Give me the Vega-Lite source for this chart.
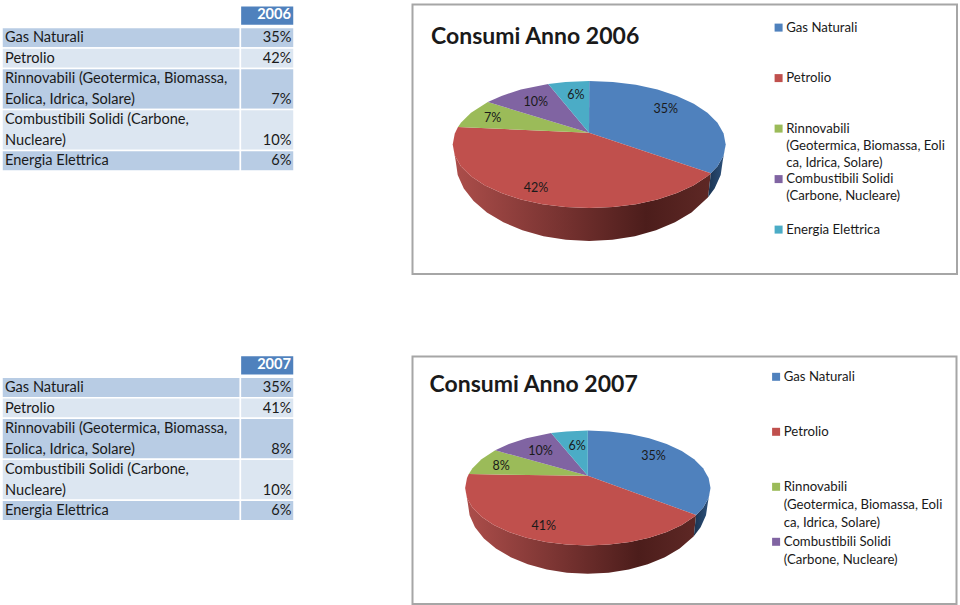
{
"$schema":"https://vega.github.io/schema/vega-lite/v6.json",
"background":"white",
"padding":{"left":0,"top":3.5,"right":0,"bottom":0},
"config":{"view":{"stroke":null},"font":"Lato","text":{"font":"Lato"}},
"bounds":"flush",
"spacing":{"row":82,"column":118.5},
"columns":2,
"resolve":{"scale":{"fill":"independent","x":"independent","y":"independent"},"legend":{"fill":"independent"}},
"datasets":{
"t06":[
{"band":"header","name":"","value":"2006","rowFrom":-1.06,"rowTo":-0.1,"labelLine":-0.6,"valueLine":-0.6},
{"band":"dark","name":"Gas Naturali","value":"35%","rowFrom":0,"rowTo":1,"labelLine":0.53,"valueLine":0.53},
{"band":"light","name":"Petrolio","value":"42%","rowFrom":1,"rowTo":2,"labelLine":1.53,"valueLine":1.53},
{"band":"dark","name":"Rinnovabili (Geotermica, Biomassa,|Eolica, Idrica, Solare)","value":"7%","rowFrom":2,"rowTo":4,"labelLine":2.53,"valueLine":3.53},
{"band":"light","name":"Combustibili Solidi (Carbone,|Nucleare)","value":"10%","rowFrom":4,"rowTo":6,"labelLine":4.53,"valueLine":5.53},
{"band":"dark","name":"Energia Elettrica","value":"6%","rowFrom":6,"rowTo":7,"labelLine":6.53,"valueLine":6.53}
],
"t07":[
{"band":"header","name":"","value":"2007","rowFrom":-1.06,"rowTo":-0.1,"labelLine":-0.6,"valueLine":-0.6},
{"band":"dark","name":"Gas Naturali","value":"35%","rowFrom":0,"rowTo":1,"labelLine":0.53,"valueLine":0.53},
{"band":"light","name":"Petrolio","value":"41%","rowFrom":1,"rowTo":2,"labelLine":1.53,"valueLine":1.53},
{"band":"dark","name":"Rinnovabili (Geotermica, Biomassa,|Eolica, Idrica, Solare)","value":"8%","rowFrom":2,"rowTo":4,"labelLine":2.53,"valueLine":3.53},
{"band":"light","name":"Combustibili Solidi (Carbone,|Nucleare)","value":"10%","rowFrom":4,"rowTo":6,"labelLine":4.53,"valueLine":5.53},
{"band":"dark","name":"Energia Elettrica","value":"6%","rowFrom":6,"rowTo":7,"labelLine":6.53,"valueLine":6.53}
],
"l06":[
{"slice":"Gas Naturali","text":"35%","x":665.7,"y":108.3},
{"slice":"Petrolio","text":"42%","x":536,"y":186.7},
{"slice":"Rinnovabili","text":"7%","x":492.7,"y":116.7},
{"slice":"Combustibili Solidi","text":"10%","x":535.7,"y":101},
{"slice":"Energia Elettrica","text":"6%","x":576,"y":94.3}
],
"l07":[
{"slice":"Gas Naturali","text":"35%","x":654,"y":454.3},
{"slice":"Petrolio","text":"41%","x":544.3,"y":524.3},
{"slice":"Rinnovabili","text":"8%","x":501.7,"y":464.3},
{"slice":"Combustibili Solidi","text":"10%","x":541,"y":449.3},
{"slice":"Energia Elettrica","text":"6%","x":577.7,"y":444}
],
"p06":[
{"s":"Gas Naturali","i":0,"x":589,"y":131.7},{"s":"Gas Naturali","i":1,"x":589.2,"y":80},{"s":"Gas Naturali","i":2,"x":612.9,"y":81},{"s":"Gas Naturali","i":3,"x":635.9,"y":83.8},{"s":"Gas Naturali","i":4,"x":657.5,"y":88.5},{"s":"Gas Naturali","i":5,"x":676.9,"y":94.9},{"s":"Gas Naturali","i":6,"x":693.8,"y":102.7},{"s":"Gas Naturali","i":7,"x":707.4,"y":111.7},{"s":"Gas Naturali","i":8,"x":717.5,"y":121.8},{"s":"Gas Naturali","i":9,"x":723.6,"y":132.5},{"s":"Gas Naturali","i":10,"x":725.7,"y":143.5},{"s":"Gas Naturali","i":11,"x":723.6,"y":154.5},{"s":"Gas Naturali","i":12,"x":717.5,"y":165.2},{"s":"Gas Naturali","i":13,"x":710.8,"y":172.3},
{"s":"Petrolio","i":0,"x":589,"y":131.7},{"s":"Petrolio","i":1,"x":710.8,"y":172.3},{"s":"Petrolio","i":2,"x":707.4,"y":175.3},{"s":"Petrolio","i":3,"x":693.8,"y":184.3},{"s":"Petrolio","i":4,"x":676.9,"y":192.1},{"s":"Petrolio","i":5,"x":657.5,"y":198.5},{"s":"Petrolio","i":6,"x":635.9,"y":203.2},{"s":"Petrolio","i":7,"x":612.9,"y":206},{"s":"Petrolio","i":8,"x":589.2,"y":207},{"s":"Petrolio","i":9,"x":565.5,"y":206},{"s":"Petrolio","i":10,"x":542.5,"y":203.2},{"s":"Petrolio","i":11,"x":520.9,"y":198.5},{"s":"Petrolio","i":12,"x":501.5,"y":192.1},{"s":"Petrolio","i":13,"x":484.6,"y":184.3},{"s":"Petrolio","i":14,"x":471,"y":175.3},{"s":"Petrolio","i":15,"x":460.9,"y":165.2},{"s":"Petrolio","i":16,"x":454.8,"y":154.5},{"s":"Petrolio","i":17,"x":452.7,"y":143.5},{"s":"Petrolio","i":18,"x":454.8,"y":132.5},{"s":"Petrolio","i":19,"x":458,"y":126},
{"s":"Rinnovabili","i":0,"x":589,"y":131.7},{"s":"Rinnovabili","i":1,"x":458,"y":126},{"s":"Rinnovabili","i":2,"x":460.9,"y":121.8},{"s":"Rinnovabili","i":3,"x":471,"y":111.7},{"s":"Rinnovabili","i":4,"x":487.8,"y":101},
{"s":"Combustibili Solidi","i":0,"x":589,"y":131.7},{"s":"Combustibili Solidi","i":1,"x":487.8,"y":101},{"s":"Combustibili Solidi","i":2,"x":501.5,"y":94.9},{"s":"Combustibili Solidi","i":3,"x":520.9,"y":88.5},{"s":"Combustibili Solidi","i":4,"x":548.2,"y":82.9},
{"s":"Energia Elettrica","i":0,"x":589,"y":131.7},{"s":"Energia Elettrica","i":1,"x":548.2,"y":82.9},{"s":"Energia Elettrica","i":2,"x":565.5,"y":81},{"s":"Energia Elettrica","i":3,"x":589.2,"y":80}
],
"w06r":[
{"i":0,"x":710.8,"y":172.3},{"i":1,"x":707.4,"y":175.3},{"i":2,"x":693.8,"y":184.3},{"i":3,"x":676.9,"y":192.1},{"i":4,"x":657.5,"y":198.5},{"i":5,"x":635.9,"y":203.2},{"i":6,"x":612.9,"y":206},{"i":7,"x":589.2,"y":207},{"i":8,"x":565.5,"y":206},{"i":9,"x":542.5,"y":203.2},{"i":10,"x":520.9,"y":198.5},{"i":11,"x":501.5,"y":192.1},{"i":12,"x":484.6,"y":184.3},{"i":13,"x":471,"y":175.3},{"i":14,"x":460.9,"y":165.2},{"i":15,"x":454.8,"y":154.5},{"i":16,"x":452.7,"y":143.5},
{"i":17,"x":455.7,"y":160},{"i":18,"x":457.7,"y":173.9},{"i":19,"x":463.8,"y":187.4},{"i":20,"x":473.6,"y":200},{"i":21,"x":486.9,"y":211.4},{"i":22,"x":503.4,"y":221.3},{"i":23,"x":522.4,"y":229.3},{"i":24,"x":543.5,"y":235.2},{"i":25,"x":566,"y":238.8},{"i":26,"x":589.2,"y":240},{"i":27,"x":612.4,"y":238.8},{"i":28,"x":634.9,"y":235.2},{"i":29,"x":656,"y":229.3},{"i":30,"x":675,"y":221.3},{"i":31,"x":691.5,"y":211.4},{"i":32,"x":708.1,"y":196.3}
],
"w06b":[
{"i":0,"x":725.7,"y":143.5},{"i":1,"x":723.6,"y":154.5},{"i":2,"x":717.5,"y":165.2},{"i":3,"x":710.8,"y":172.3},{"i":4,"x":708.1,"y":196.3},{"i":5,"x":714.6,"y":187.4},{"i":6,"x":720.7,"y":173.9},{"i":7,"x":722.7,"y":160}
],
"p07":[
{"s":"Gas Naturali","i":0,"x":588.3,"y":474.3},{"s":"Gas Naturali","i":1,"x":588.3,"y":429},{"s":"Gas Naturali","i":2,"x":609.6,"y":429.9},{"s":"Gas Naturali","i":3,"x":630.3,"y":432.5},{"s":"Gas Naturali","i":4,"x":649.7,"y":436.7},{"s":"Gas Naturali","i":5,"x":667.2,"y":442.5},{"s":"Gas Naturali","i":6,"x":682.3,"y":449.5},{"s":"Gas Naturali","i":7,"x":694.6,"y":457.7},{"s":"Gas Naturali","i":8,"x":703.6,"y":466.8},{"s":"Gas Naturali","i":9,"x":709.1,"y":476.5},{"s":"Gas Naturali","i":10,"x":711,"y":486.5},{"s":"Gas Naturali","i":11,"x":709.1,"y":496.5},{"s":"Gas Naturali","i":12,"x":703.6,"y":506.2},{"s":"Gas Naturali","i":13,"x":696.6,"y":513.5},
{"s":"Petrolio","i":0,"x":588.3,"y":474.3},{"s":"Petrolio","i":1,"x":696.6,"y":513.5},{"s":"Petrolio","i":2,"x":694.6,"y":515.3},{"s":"Petrolio","i":3,"x":682.3,"y":523.5},{"s":"Petrolio","i":4,"x":667.2,"y":530.5},{"s":"Petrolio","i":5,"x":649.7,"y":536.3},{"s":"Petrolio","i":6,"x":630.3,"y":540.5},{"s":"Petrolio","i":7,"x":609.6,"y":543.1},{"s":"Petrolio","i":8,"x":588.3,"y":544},{"s":"Petrolio","i":9,"x":567,"y":543.1},{"s":"Petrolio","i":10,"x":546.3,"y":540.5},{"s":"Petrolio","i":11,"x":526.9,"y":536.3},{"s":"Petrolio","i":12,"x":509.4,"y":530.5},{"s":"Petrolio","i":13,"x":494.3,"y":523.5},{"s":"Petrolio","i":14,"x":482,"y":515.3},{"s":"Petrolio","i":15,"x":473,"y":506.2},{"s":"Petrolio","i":16,"x":467.5,"y":496.5},{"s":"Petrolio","i":17,"x":465.6,"y":486.5},{"s":"Petrolio","i":18,"x":467.5,"y":476.5},{"s":"Petrolio","i":19,"x":469.3,"y":472.6},
{"s":"Rinnovabili","i":0,"x":588.3,"y":474.3},{"s":"Rinnovabili","i":1,"x":469.3,"y":472.6},{"s":"Rinnovabili","i":2,"x":473,"y":466.8},{"s":"Rinnovabili","i":3,"x":482,"y":457.7},{"s":"Rinnovabili","i":4,"x":495.7,"y":448.8},
{"s":"Combustibili Solidi","i":0,"x":588.3,"y":474.3},{"s":"Combustibili Solidi","i":1,"x":495.7,"y":448.8},{"s":"Combustibili Solidi","i":2,"x":509.4,"y":442.5},{"s":"Combustibili Solidi","i":3,"x":526.9,"y":436.7},{"s":"Combustibili Solidi","i":4,"x":551.6,"y":431.6},
{"s":"Energia Elettrica","i":0,"x":588.3,"y":474.3},{"s":"Energia Elettrica","i":1,"x":551.6,"y":431.6},{"s":"Energia Elettrica","i":2,"x":567,"y":429.9},{"s":"Energia Elettrica","i":3,"x":588.3,"y":429}
],
"w07r":[
{"i":0,"x":696.6,"y":513.5},{"i":1,"x":694.6,"y":515.3},{"i":2,"x":682.3,"y":523.5},{"i":3,"x":667.2,"y":530.5},{"i":4,"x":649.7,"y":536.3},{"i":5,"x":630.3,"y":540.5},{"i":6,"x":609.6,"y":543.1},{"i":7,"x":588.3,"y":544},{"i":8,"x":567,"y":543.1},{"i":9,"x":546.3,"y":540.5},{"i":10,"x":526.9,"y":536.3},{"i":11,"x":509.4,"y":530.5},{"i":12,"x":494.3,"y":523.5},{"i":13,"x":482,"y":515.3},{"i":14,"x":473,"y":506.2},{"i":15,"x":467.5,"y":496.5},{"i":16,"x":465.6,"y":486.5},
{"i":17,"x":468.3,"y":501.5},{"i":18,"x":470.1,"y":513.8},{"i":19,"x":475.5,"y":525.7},{"i":20,"x":484.4,"y":536.9},{"i":21,"x":496.4,"y":547},{"i":22,"x":511.2,"y":555.7},{"i":23,"x":528.3,"y":562.8},{"i":24,"x":547.3,"y":568},{"i":25,"x":567.5,"y":571.2},{"i":26,"x":588.3,"y":572.3},{"i":27,"x":609.1,"y":571.2},{"i":28,"x":629.3,"y":568},{"i":29,"x":648.3,"y":562.8},{"i":30,"x":665.4,"y":555.7},{"i":31,"x":680.2,"y":547},{"i":32,"x":694.3,"y":534.7}
],
"w07b":[
{"i":0,"x":711,"y":486.5},{"i":1,"x":709.1,"y":496.5},{"i":2,"x":703.6,"y":506.2},{"i":3,"x":696.6,"y":513.5},{"i":4,"x":694.3,"y":534.7},{"i":5,"x":701.1,"y":525.7},{"i":6,"x":706.5,"y":513.8},{"i":7,"x":708.3,"y":501.5}
]
},
"concat":[
{"width":294,"height":269.5,"data":{"name":"t06"},
"encoding":{"y":{"field":"rowFrom","type":"quantitative","axis":null,"scale":{"domain":[12.024,-1.122],"nice":false,"zero":false}}},
"layer":[
{"transform":[{"filter":"datum.band!='header'"}],"mark":{"type":"rect","stroke":"white","strokeWidth":1.5},"encoding":{"x":{"datum":0,"type":"quantitative","axis":null,"scale":{"domain":[0,1,2],"range":[2,240.4,294],"nice":false,"zero":false}},"x2":{"datum":1},"y2":{"field":"rowTo"},"fill":{"field":"band","type":"nominal","legend":null,"scale":{"domain":["header","dark","light"],"range":["#4f81bd","#b8cce4","#dce6f1"]}}}},
{"mark":{"type":"rect","stroke":"white","strokeWidth":1.5},"encoding":{"x":{"datum":1,"type":"quantitative"},"x2":{"datum":2},"y2":{"field":"rowTo"},"fill":{"field":"band","type":"nominal","legend":null}}},
{"mark":{"type":"text","align":"left","baseline":"middle","dx":3,"fontSize":14.6,"font":"Lato","lineBreak":"|","lineHeight":20.5,"color":"#1a1a1a"},"encoding":{"x":{"datum":0,"type":"quantitative"},"y":{"field":"labelLine","type":"quantitative"},"text":{"field":"name"}}},
{"transform":[{"filter":"datum.band!='header'"}],"mark":{"type":"text","align":"right","baseline":"middle","dx":-2.5,"fontSize":14.6,"font":"Lato","color":"#1a1a1a"},"encoding":{"x":{"datum":2,"type":"quantitative"},"y":{"field":"valueLine","type":"quantitative"},"text":{"field":"value"}}},
{"transform":[{"filter":"datum.band=='header'"}],"mark":{"type":"text","align":"right","baseline":"middle","dx":-3,"fontSize":14.6,"fontWeight":"bold","font":"Lato","color":"white"},"encoding":{"x":{"datum":2,"type":"quantitative"},"y":{"field":"valueLine","type":"quantitative"},"text":{"field":"value"}}}
]},
{"width":544.5,"height":269.5,
"view":{"stroke":"#a6a6a6","strokeWidth":2},
"title":{"text":"Consumi Anno 2006","anchor":"start","frame":"group","dx":18.5,"dy":62.5,"offset":0,"baseline":"alphabetic","fontSize":23,"fontWeight":"bold","font":"Lato","color":"#1a1a1a"},
"encoding":{"x":{"field":"x","type":"quantitative","axis":null,"scale":{"domain":[412.5,957],"nice":false,"zero":false}},"y":{"field":"y","type":"quantitative","axis":null,"scale":{"domain":[273,3.5],"nice":false,"zero":false}}},
"layer":[
{"data":{"name":"w06r"},"mark":{"type":"line","filled":true,"strokeWidth":0,"fill":{"x1":0,"y1":0,"x2":1,"y2":0,"gradient":"linear","stops":[{"offset":0,"color":"#ad4e4b"},{"offset":0.4,"color":"#7a3432"},{"offset":0.75,"color":"#4c1d1b"},{"offset":1,"color":"#5e2825"}]}},"encoding":{"order":{"field":"i"}}},
{"data":{"name":"w06b"},"mark":{"type":"line","filled":true,"strokeWidth":0,"fill":{"x1":0,"y1":0,"x2":1,"y2":0,"gradient":"linear","stops":[{"offset":0,"color":"#1b3350"},{"offset":1,"color":"#2e5480"}]}},"encoding":{"order":{"field":"i"}}},
{"data":{"name":"p06"},"mark":{"type":"line","filled":true,"strokeWidth":0},"encoding":{"order":{"field":"i"},"fill":{"field":"s","type":"nominal","scale":{"domain":["Gas Naturali","Petrolio","Rinnovabili","Combustibili Solidi","Energia Elettrica"],"range":["#4f81bd","#c0504d","#9bbb59","#8064a2","#4bacc6"]},
"legend":{"orient":"none","legendX":359.5,"legendY":16.5,"title":null,"symbolType":"square","symbolSize":64,"symbolStrokeWidth":0,"padding":0,"rowPadding":2.5,"labelFont":"Lato","labelFontSize":13.2,"labelColor":"#1a1a1a","labelLimit":300,"labelOffset":1,"labelExpr":"datum.label=='Gas Naturali'?['Gas Naturali','','']:datum.label=='Petrolio'?['Petrolio','','']:datum.label=='Rinnovabili'?['Rinnovabili','(Geotermica, Biomassa, Eoli','ca, Idrica, Solare)']:datum.label=='Combustibili Solidi'?['Combustibili Solidi','(Carbone, Nucleare)','']:['Energia Elettrica','','']","encode":{"labels":{"update":{"lineHeight":{"value":17}}}}}}}},
{"data":{"name":"l06"},"mark":{"type":"text","fontSize":12.5,"font":"Lato","color":"#1a1a1a"},"encoding":{"text":{"field":"text"}}}
]},
{"width":294,"height":247.5,"data":{"name":"t07"},
"encoding":{"y":{"field":"rowFrom","type":"quantitative","axis":null,"scale":{"domain":[11.06,-1.013],"nice":false,"zero":false}}},
"layer":[
{"transform":[{"filter":"datum.band!='header'"}],"mark":{"type":"rect","stroke":"white","strokeWidth":1.5},"encoding":{"x":{"datum":0,"type":"quantitative","axis":null,"scale":{"domain":[0,1,2],"range":[2,240.4,294],"nice":false,"zero":false}},"x2":{"datum":1},"y2":{"field":"rowTo"},"fill":{"field":"band","type":"nominal","legend":null,"scale":{"domain":["header","dark","light"],"range":["#4f81bd","#b8cce4","#dce6f1"]}}}},
{"mark":{"type":"rect","stroke":"white","strokeWidth":1.5},"encoding":{"x":{"datum":1,"type":"quantitative"},"x2":{"datum":2},"y2":{"field":"rowTo"},"fill":{"field":"band","type":"nominal","legend":null}}},
{"mark":{"type":"text","align":"left","baseline":"middle","dx":3,"fontSize":14.6,"font":"Lato","lineBreak":"|","lineHeight":20.5,"color":"#1a1a1a"},"encoding":{"x":{"datum":0,"type":"quantitative"},"y":{"field":"labelLine","type":"quantitative"},"text":{"field":"name"}}},
{"transform":[{"filter":"datum.band!='header'"}],"mark":{"type":"text","align":"right","baseline":"middle","dx":-2.5,"fontSize":14.6,"font":"Lato","color":"#1a1a1a"},"encoding":{"x":{"datum":2,"type":"quantitative"},"y":{"field":"valueLine","type":"quantitative"},"text":{"field":"value"}}},
{"transform":[{"filter":"datum.band=='header'"}],"mark":{"type":"text","align":"right","baseline":"middle","dx":-3,"fontSize":14.6,"fontWeight":"bold","font":"Lato","color":"white"},"encoding":{"x":{"datum":2,"type":"quantitative"},"y":{"field":"valueLine","type":"quantitative"},"text":{"field":"value"}}}
]},
{"width":544,"height":247.5,
"view":{"stroke":"#a6a6a6","strokeWidth":2},
"title":{"text":"Consumi Anno 2007","anchor":"start","frame":"group","dx":17,"dy":58,"offset":0,"baseline":"alphabetic","fontSize":23,"fontWeight":"bold","font":"Lato","color":"#1a1a1a"},
"encoding":{"x":{"field":"x","type":"quantitative","axis":null,"scale":{"domain":[413,957],"nice":false,"zero":false}},"y":{"field":"y","type":"quantitative","axis":null,"scale":{"domain":[602.5,355],"nice":false,"zero":false}}},
"layer":[
{"data":{"name":"w07r"},"mark":{"type":"line","filled":true,"strokeWidth":0,"fill":{"x1":0,"y1":0,"x2":1,"y2":0,"gradient":"linear","stops":[{"offset":0,"color":"#ad4e4b"},{"offset":0.4,"color":"#7a3432"},{"offset":0.75,"color":"#4c1d1b"},{"offset":1,"color":"#5e2825"}]}},"encoding":{"order":{"field":"i"}}},
{"data":{"name":"w07b"},"mark":{"type":"line","filled":true,"strokeWidth":0,"fill":{"x1":0,"y1":0,"x2":1,"y2":0,"gradient":"linear","stops":[{"offset":0,"color":"#1b3350"},{"offset":1,"color":"#2e5480"}]}},"encoding":{"order":{"field":"i"}}},
{"data":{"name":"p07"},"mark":{"type":"line","filled":true,"strokeWidth":0},"encoding":{"order":{"field":"i"},"fill":{"field":"s","type":"nominal","scale":{"domain":["Gas Naturali","Petrolio","Rinnovabili","Combustibili Solidi","Energia Elettrica"],"range":["#4f81bd","#c0504d","#9bbb59","#8064a2","#4bacc6"]},
"legend":{"orient":"none","legendX":357,"legendY":13.7,"title":null,"values":["Gas Naturali","Petrolio","Rinnovabili","Combustibili Solidi"],"symbolType":"square","symbolSize":64,"symbolStrokeWidth":0,"padding":0,"rowPadding":5,"labelFont":"Lato","labelFontSize":13.2,"labelColor":"#1a1a1a","labelLimit":300,"labelOffset":1,"labelExpr":"datum.label=='Gas Naturali'?['Gas Naturali','','']:datum.label=='Petrolio'?['Petrolio','','']:datum.label=='Rinnovabili'?['Rinnovabili','(Geotermica, Biomassa, Eoli','ca, Idrica, Solare)']:['Combustibili Solidi','(Carbone, Nucleare)','']","encode":{"labels":{"update":{"lineHeight":{"value":18}}}}}}}},
{"data":{"name":"l07"},"mark":{"type":"text","fontSize":12.5,"font":"Lato","color":"#1a1a1a"},"encoding":{"text":{"field":"text"}}}
]}
]
}
